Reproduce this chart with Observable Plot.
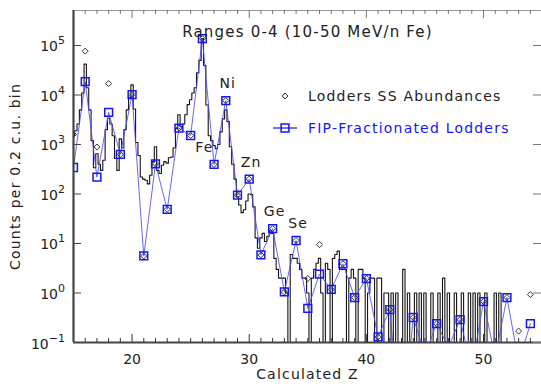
<!DOCTYPE html>
<html>
<head>
<meta charset="utf-8">
<script src="https://cdn.jsdelivr.net/npm/d3@7"></script>
<script src="https://cdn.jsdelivr.net/npm/@observablehq/plot@0.6"></script>
<style>
  body { margin: 0; background: #fff; }
  #chart svg { display: block; }
  #chart g[aria-label="text"] text { letter-spacing: 1.2px; }
</style>
</head>
<body>
<div id="chart"></div>
<script>
// Measured charge histogram: counts per 0.2 c.u. bin, bin centres from Z = 15.0
const binStart = 15.0;
const binWidth = 0.2;
const binCounts = [
  1500, 1900, 2600, 5000, 11000, 42000, 14000, 5000, 1200, 340,
  650, 400, 300, 480, 2000, 3400, 2600, 1500, 520, 300,
  1300, 850, 2000, 5000, 9000, 16000, 5200, 1100, 600, 220,
  200, 190, 160, 240, 450, 900, 300, 260, 380, 450,
  420, 540, 560, 850, 2100, 4000, 2300, 2600, 4000, 6400,
  8000, 11000, 14000, 28000, 50000, 138000, 40000, 6300, 1500, 1200,
  950, 820, 1000, 1800, 3300, 5000, 2900, 900, 400, 200,
  88, 60, 42, 48, 72, 100, 98, 55, 13, 8,
  13, 16, 11, 14, 18, 16, 5, 3, 2, 2,
  2, 1, 0, 6, 5, 5, 4, 3, 2, 2,
  1, 0, 2, 3, 4, 5, 1, 0, 4, 3,
  0, 5, 6, 7, 3, 3, 3, 0, 2, 3,
  2, 0, 3, 3, 2, 0, 1, 2, 2, 0,
  2, 2, 0, 1, 1, 0, 1, 0, 1, 0,
  0, 3, 0, 1, 0, 0, 1, 0, 1, 0,
  1, 0, 0, 1, 0, 0, 1, 0, 2, 0,
  1, 0, 0, 1, 0, 0, 1, 0, 0, 1,
  0, 1, 0, 1, 0, 0, 1, 0, 0, 0,
  1, 0, 1, 0, 0, 0, 0, 0, 0, 0,
  0, 0, 0, 0, 0, 0, 0, 0, 0, 0
];

// Element charges and the two abundance models, scaled to the Fe peak
const elementZ = [15, 16, 17, 18, 19, 20, 21, 22, 23, 24, 25, 26, 27, 28, 29, 30, 31, 32, 33, 34,
                  35, 36, 37, 38, 39, 40, 41, 42, 43, 44, 45, 46, 47, 48, 49, 50, 51, 52, 53, 54];
const loddersSS = [1590, 77000, 890, 17000, 630, 10200, 5.6, 405, 49, 2140,
                   1520, 138000, 395, 7700, 95, 200, 5.9, 20, 1.05, 11.5,
                   1.96, 9.5, 1.18, 3.9, 0.81, 1.96, 0.13, 0.46, 0, 0.32,
                   0.057, 0.24, 0.08, 0.29, 0.03, 0.67, 0.05, 0.81, 0.17, 0.93];
const fipLodders = [343, 18700, 220, 4450, 630, 10200, 5.6, 405, 49, 2140,
                    1520, 138000, 395, 7700, 95, 200, 5.9, 20, 1.05, 11.5,
                    0.49, 2.4, 1.18, 3.9, 0.81, 1.96, 0.13, 0.46, 0, 0.32,
                    0.057, 0.24, 0.08, 0.29, 0.03, 0.67, 0.05, 0.81, 0.04, 0.24];

// Annotated elements
const labelNames = ["Fe", "Ni", "Zn", "Ge", "Se"];
const labelZ = [26, 28, 30, 32, 34];

// Axis ticks
const decades = [0.1, 1, 10, 100, 1000, 10000, 100000];
const xMajor = [20, 30, 40, 50];
const xMinor = [16, 17, 18, 19, 21, 22, 23, 24, 25, 26, 27, 28, 29, 31, 32, 33, 34, 35, 36, 37, 38, 39,
                41, 42, 43, 44, 45, 46, 47, 48, 49, 51, 52, 53, 54];

const titleText = "Ranges 0-4 (10-50 MeV/n Fe)";
const xTitle = "Calculated Z";
const yTitle = "Counts per 0.2 c.u. bin";
const legendNames = ["Lodders SS Abundances", "FIP-Fractionated Lodders"];

// ---- layout ----
const W = 541, H = 387;
const mL = 73, mR = 0, mT = 10, mB = 45;
const frameW = W - mL - mR, frameH = H - mT - mB;
const yTop = Math.pow(10, 5.707);
const floor = 1e-3; // empty bins / absent elements drop below the axis
const blue = "#1414ff";

const hist = binCounts.map((n, i) => ({z: binStart + i * binWidth, n}));
const lod = elementZ.map((z, i) => ({z, v: loddersSS[i]}));
const fip = elementZ.map((z, i) => ({z, v: fipLodders[i]}));
const fipAt = z => fipLodders[elementZ.indexOf(z)];
const labelDy = {Fe: 109};

function yTickLabels(index, {y}, values, {marginLeft}) {
  const g = d3.create("svg:g")
    .attr("font-family", "DejaVu Sans").attr("font-size", 14)
    .attr("text-anchor", "end").attr("fill", "#222");
  for (const d of decades) {
    const e = Math.round(Math.log10(d));
    const t = g.append("text").attr("x", marginLeft - 8).attr("y", y(d) + 6.5);
    t.append("tspan").text("10");
    t.append("tspan").attr("font-size", 11).attr("dy", -7).text(e < 0 ? "\u2212" + (-e) : String(e));
  }
  return g.node();
}

function legendMark(index, scales, values, {marginLeft, marginTop}) {
  const g = d3.create("svg:g")
    .attr("font-family", "DejaVu Sans").attr("font-size", 14)
    .attr("letter-spacing", "1.2px").attr("text-anchor", "start");
  const sx = marginLeft + 212, tx = marginLeft + 235;
  const r1 = marginTop + 86, r2 = marginTop + 118;
  g.append("path")
    .attr("transform", `translate(${sx},${r1})`)
    .attr("d", d3.symbol(d3.symbolDiamond2, Math.PI * 2.7 * 2.7)())
    .attr("fill", "none").attr("stroke", "#333").attr("stroke-width", 1);
  g.append("text").attr("x", tx).attr("y", r1).attr("dy", "0.35em").attr("fill", "#222").text(legendNames[0]);
  g.append("line").attr("x1", sx - 12).attr("x2", sx + 12).attr("y1", r2).attr("y2", r2)
    .attr("stroke", blue).attr("stroke-width", 1.2);
  g.append("path")
    .attr("transform", `translate(${sx},${r2})`)
    .attr("d", d3.symbol(d3.symbolSquare, Math.PI * 4.4 * 4.4)())
    .attr("fill", "none").attr("stroke", blue).attr("stroke-width", 1.5);
  g.append("text").attr("x", tx).attr("y", r2).attr("dy", "0.35em").attr("fill", blue).text(legendNames[1]);
  return g.node();
}

const chart = Plot.plot({
  width: W, height: H,
  marginLeft: mL, marginRight: mR, marginTop: mT, marginBottom: mB,
  x: {domain: [15, 54.95]},
  y: {type: "log", domain: [0.1, yTop], axis: null},
  style: {fontFamily: "DejaVu Sans", fontSize: "14px", color: "#222", background: "#fff"},
  marks: [
    // measured histogram
    Plot.line(hist, {x: "z", y: d => Math.max(d.n, floor), curve: "step",
      stroke: "#151515", strokeWidth: 1.1, clip: true}),
    // FIP-fractionated model
    Plot.line(fip, {x: "z", y: d => Math.max(d.v, floor),
      stroke: "#4a4aff", strokeWidth: 1, strokeOpacity: 0.85, clip: true}),
    Plot.dot(fip.filter(d => d.v > 0), {x: "z", y: "v", symbol: "square", r: 4.4,
      stroke: blue, strokeWidth: 1.5, fill: "none", clip: true}),
    // solar-system abundances
    Plot.dot(lod.filter(d => d.v > 0), {x: "z", y: "v", symbol: "diamond2", r: 2.7,
      stroke: "#333", strokeWidth: 1, fill: "none", clip: true}),
    // frame and ticks
    Plot.ruleY([yTop], {stroke: "#999", strokeWidth: 1.2}),
    Plot.ruleX([15], {stroke: "#444", strokeWidth: 2.2}),
    Plot.ruleY([0.1], {stroke: "#444", strokeWidth: 2.2}),
    Plot.tickX(xMinor, {x: d => d, insetTop: frameH - 4, stroke: "#333"}),
    Plot.tickX(xMajor, {x: d => d, insetTop: frameH - 8, stroke: "#333"}),
    Plot.tickX(xMinor, {x: d => d, insetBottom: frameH - 4, stroke: "#777"}),
    Plot.tickX(xMajor, {x: d => d, insetBottom: frameH - 8, stroke: "#777"}),
    Plot.tickY(decades, {y: d => d, insetRight: frameW - 8, stroke: "#444"}),
    Plot.tickY(decades, {y: d => d, insetLeft: frameW - 8, stroke: "#777"}),
    Plot.axisX(xMajor, {tickSize: 0, tickPadding: 12, fontSize: 14, label: null}),
    yTickLabels,
    // texts
    Plot.text([titleText], {frameAnchor: "top", dy: 16, fontSize: 15}),
    Plot.text([xTitle], {frameAnchor: "bottom", dy: 36, fontSize: 14}),
    Plot.text([yTitle], {frameAnchor: "left", dx: -58, rotate: -90, textAnchor: "middle", fontSize: 14}),
    ...labelNames.map((name, i) => Plot.text([name], {
      x: () => labelZ[i], y: () => fipAt(labelZ[i]), text: d => d,
      dx: 2, dy: labelDy[name] ?? -17, fontSize: 14
    })),
    legendMark
  ]
});

document.getElementById("chart").appendChild(chart);
</script>
</body>
</html>
